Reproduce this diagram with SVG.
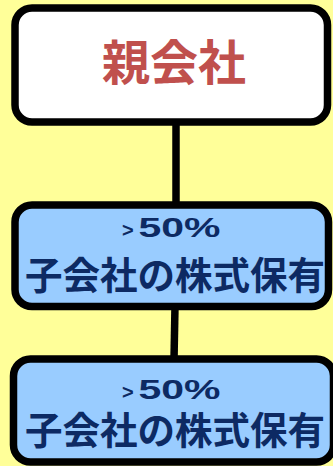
<svg xmlns="http://www.w3.org/2000/svg" width="333" height="466" viewBox="0 0 333 466">
<style>
.box{stroke:#000;stroke-width:7.5}
.parent{fill:#fff}
.child{fill:#99ccff}
.t{font-family:"Noto Sans CJK JP","Noto Sans CJK SC",sans-serif;font-weight:bold;text-anchor:middle}
.n{font-family:"Liberation Sans",Arial,sans-serif;font-weight:bold;fill:#0d2a63}
.gt{font-size:20px}
.pct{font-size:27.5px}
.sub{fill:#0d2a63;font-size:37.5px}
.conn{stroke:#000;stroke-width:7.5;fill:none}
</style>
<rect width="333" height="466" fill="#ffff99"/>
<g id="connectors">
<line class="conn" x1="176" y1="122" x2="176" y2="206"/>
<line class="conn" x1="175" y1="306" x2="174" y2="360"/>
</g>
<g id="parent">
<rect class="box parent" x="15" y="8" width="312.5" height="114" rx="17"/>
<text class="t" x="174" y="80" font-size="48" fill="#c0504d">親会社</text>
</g>
<g id="child1">
<rect class="box child" x="15" y="205" width="313.5" height="101.5" rx="17"/>
<text class="n gt" x="122" y="237">&gt;</text>
<text class="n pct" x="138.5" y="237" textLength="82" lengthAdjust="spacingAndGlyphs">50%</text>
<text class="t sub" x="175" y="289">子会社の株式保有</text>
</g>
<g id="child2">
<rect class="box child" x="13.5" y="359" width="320" height="103" rx="17"/>
<text class="n gt" x="122" y="399">&gt;</text>
<text class="n pct" x="138.5" y="399" textLength="82" lengthAdjust="spacingAndGlyphs">50%</text>
<text class="t sub" x="175" y="444">子会社の株式保有</text>
</g>
</svg>
